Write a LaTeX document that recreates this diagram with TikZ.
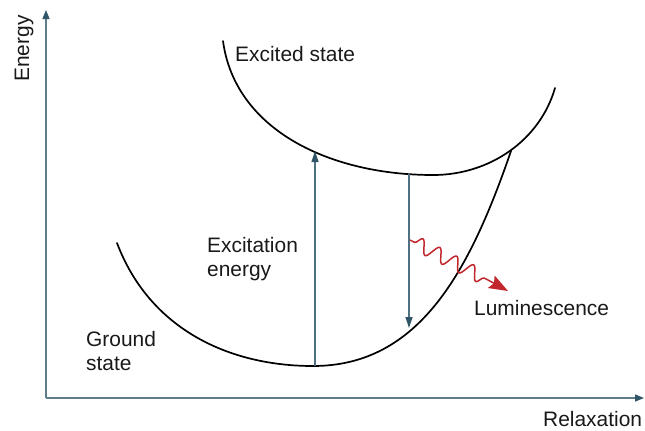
\documentclass[tikz,border=0pt]{standalone}
\usepackage{fontspec}
\setmainfont{Liberation Sans}
\usetikzlibrary{arrows.meta,decorations.pathmorphing}
\definecolor{axiscol}{HTML}{5E7C8A}
\definecolor{tipcol}{HTML}{2F5567}
\definecolor{arrcol}{HTML}{4F7080}
\definecolor{lumred}{HTML}{C1272D}
\begin{document}
\begin{tikzpicture}[x=1bp,y=-1bp,
  axis/.style={draw=axiscol,line width=1.5bp,-{Triangle[length=9bp,width=7bp,color=tipcol]}},
  curve/.style={draw=black,line width=1.7bp,line cap=round},
  trans/.style={draw=arrcol,line width=1.2bp,-{Triangle[length=11bp,width=7bp,color=tipcol]}},
  lbl/.style={inner sep=0pt,font=\fontsize{21}{24}\selectfont,text=black!90},
  lumi/.style={draw=lumred,line width=1.5bp}]
\useasboundingbox (0,0) rectangle (645,430);
% axes
\coordinate (O) at (46,398);
\coordinate (ytip) at (46,10);
\coordinate (xtip) at (644,398);
\draw[axis] (O) -- (ytip);
\draw[axis] (O) -- (xtip);
\node[lbl,rotate=90,anchor=base west] (energyax) at (29,82) {Energy};
\node[lbl,anchor=base west] (relax) at (543,426) {Relaxation};
% potential curves
\draw[curve] (117,243) .. controls (150,330) and (230,366) .. (313,366)
                       .. controls (420,366) and (470,270) .. (511,151);
\draw[curve] (223,41) .. controls (235,130) and (330,175) .. (433,175)
                      .. controls (490,175) and (540,140) .. (555,88);
% transitions
\coordinate (gmin) at (315,366);
\coordinate (eup) at (315,151);
\coordinate (emin) at (409,174);
\coordinate (gdown) at (409,328);
\draw[trans] (gmin) -- (eup);
\draw[trans] (emin) -- (gdown);
% luminescence
\coordinate (ls) at (410,240);
\coordinate (lmid) at (488,280);
\coordinate (le) at (508,291);
\draw[lumi,decorate,decoration={snake,segment length=19bp,amplitude=7bp,pre length=5bp,post length=3bp}] (ls) -- (lmid);
\draw[lumi,-{Stealth[length=19bp,width=14bp,inset=3bp,color=lumred]}] (lmid) -- (le);
% labels
\node[lbl,anchor=base west] (exc) at (235,61) {Excited state};
\node[lbl,anchor=base west,align=left] (excen) at (207,276) {Excitation\\energy};
\node[lbl,anchor=base west,align=left] (ground) at (86,370) {Ground\\state};
\node[lbl,anchor=base west] (lum) at (474,315) {Luminescence};
\end{tikzpicture}
\end{document}
